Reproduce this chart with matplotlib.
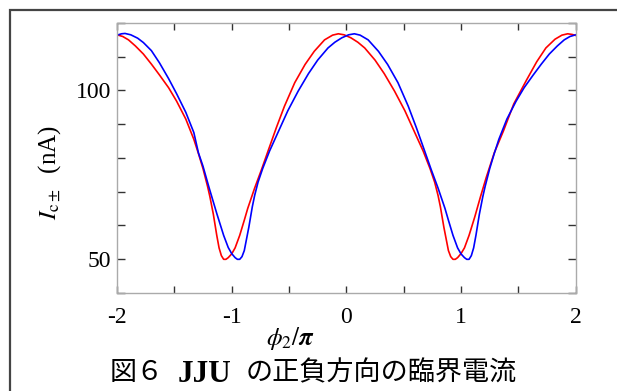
import numpy as np
import matplotlib
matplotlib.use('Agg')
import matplotlib.pyplot as plt
from matplotlib.patches import Rectangle

plt.rcParams['font.family'] = ['Liberation Serif', 'Noto Sans CJK JP', 'DejaVu Sans']
plt.rcParams['mathtext.fontset'] = 'stix'
plt.rcParams['axes.unicode_minus'] = False

# phase phi2/pi and critical current Ic+ (red) / Ic- (blue) in nA
phiRed = [-2.00, -1.95, -1.90, -1.84, -1.77, -1.70, -1.63, -1.55, -1.48, -1.40,
          -1.33, -1.29, -1.25, -1.21, -1.19, -1.16, -1.13, -1.11, -1.09, -1.07,
          -1.05, -1.03, -1.00, -0.97, -0.93, -0.89, -0.86, -0.80, -0.74, -0.68,
          -0.61, -0.54, -0.45, -0.36, -0.28, -0.19, -0.12, -0.07, -0.02, 0.04,
          0.10, 0.16, 0.25, 0.33, 0.42, 0.51, 0.59, 0.67, 0.73, 0.77,
          0.80, 0.82, 0.85, 0.87, 0.89, 0.91, 0.93, 0.95, 0.97, 1.00,
          1.03, 1.07, 1.12, 1.17, 1.22, 1.29, 1.37, 1.46, 1.57, 1.66,
          1.74, 1.82, 1.88, 1.93, 1.97, 2.00]
icRed = [116.5, 116.0, 115.0, 113.2, 110.8, 107.8, 104.6, 100.8, 96.8, 91.5,
         85.5, 81.3, 76.8, 71.5, 68.5, 63.3, 57.0, 53.3, 51.0, 49.9,
         49.9, 50.4, 51.5, 53.3, 57.0, 61.5, 65.0, 71.0, 76.5, 82.3,
         89.0, 95.3, 102.3, 107.7, 111.6, 115.0, 116.4, 116.8, 116.5, 115.6,
         114.3, 112.6, 109.0, 105.0, 99.8, 94.0, 88.0, 82.0, 76.8, 72.8,
         68.8, 65.5, 59.5, 56.0, 52.5, 50.7, 49.9, 49.9, 50.4, 51.6,
         53.3, 57.0, 62.5, 68.5, 74.2, 81.5, 88.0, 96.0, 103.0, 108.5,
         112.6, 115.2, 116.4, 116.8, 116.6, 116.3]

phiBlue = [-2.00, -1.96, -1.93, -1.88, -1.82, -1.77, -1.70, -1.63, -1.55, -1.48,
           -1.40, -1.33, -1.29, -1.25, -1.20, -1.13, -1.07, -1.03, -1.00, -0.97,
           -0.95, -0.93, -0.91, -0.89, -0.87, -0.85, -0.82, -0.80, -0.77, -0.73,
           -0.67, -0.59, -0.51, -0.42, -0.33, -0.25, -0.16, -0.10, -0.04, 0.02,
           0.07, 0.12, 0.19, 0.28, 0.36, 0.45, 0.54, 0.61, 0.68, 0.74,
           0.80, 0.86, 0.89, 0.93, 0.97, 1.00, 1.03, 1.05, 1.07, 1.09,
           1.11, 1.13, 1.16, 1.19, 1.21, 1.25, 1.29, 1.33, 1.40, 1.48,
           1.55, 1.63, 1.70, 1.77, 1.84, 1.90, 1.95, 2.00]
icBlue = [116.4, 116.8, 116.9, 116.5, 115.5, 114.2, 111.8, 108.2, 103.5, 99.0,
          93.5, 87.5, 81.5, 77.5, 71.5, 63.5, 57.0, 53.4, 51.6, 50.4,
          49.9, 49.9, 50.7, 52.5, 56.0, 59.5, 65.5, 68.8, 72.8, 76.8,
          82.0, 88.0, 94.0, 99.8, 105.0, 109.0, 112.6, 114.3, 115.6, 116.5,
          116.8, 116.4, 115.0, 111.6, 107.7, 102.3, 95.3, 89.0, 82.3, 76.5,
          71.0, 65.0, 61.5, 57.0, 53.3, 51.5, 50.4, 49.9, 49.9, 51.0,
          53.3, 57.0, 63.3, 68.5, 71.5, 76.8, 81.3, 85.5, 91.5, 96.8,
          100.8, 104.6, 107.8, 110.8, 113.2, 115.0, 116.0, 116.5]

xTicks = [-2, -1, 0, 1, 2]
xTickLabels = ['-2', '-1', '0', '1', '2']
yTicks = [50, 100]
yTickLabels = ['50', '100']

W, H = 617, 391
fig = plt.figure(figsize=(W / 100, H / 100), dpi=100)
fig.patch.set_facecolor('white')

# outer frame, only left and top edges fall inside the picture
fig.patches.append(Rectangle((10 / W, -0.2), 1.2, 1.2 - 10 / H,
                             transform=fig.transFigure, fill=False,
                             edgecolor='#444444', linewidth=1.6))

ax = fig.add_axes([117 / W, (H - 292.7) / H, (575.7 - 117) / W, (292.7 - 23) / H])
ax.plot(phiRed, icRed, color='#ff0000', linewidth=1.2)
ax.plot(phiBlue, icBlue, color='#0000ff', linewidth=1.2)

ax.set_xlim(-2, 2)
ax.set_ylim(40, 120)
ax.set_xticks(xTicks)
ax.set_xticklabels(xTickLabels, fontsize=17)
ax.set_xticks(np.arange(-2, 2.01, 0.5), minor=True)
ax.set_yticks(yTicks)
ax.set_yticklabels(yTickLabels, fontsize=17)
ax.set_yticks(np.arange(40, 121, 10), minor=True)

ax.tick_params(which='both', direction='in', top=True, right=True,
               color='#333333', width=1.0)
ax.tick_params(axis='x', which='both', length=5, pad=10)
ax.tick_params(axis='y', which='both', length=6, pad=4)

for s in ax.spines.values():
    s.set_color('#aaaaaa')
    s.set_linewidth(1.0)

# axis labels
fig.text(50 / W, 1 - 172 / H, r'$I_{\mathrm{c}\pm}$  (nA)', rotation=90,
         ha='center', va='center', fontsize=18)
fig.text(290 / W, 1 - 338 / H, r'$\phi_2/\boldsymbol{\pi}$', ha='center',
         va='center', fontsize=18)

# caption
fig.text(110 / W, 1 - 374 / H, '図６', ha='left', va='center', fontsize=19.5)
fig.text(178 / W, 1 - 374 / H, 'JJU', ha='left', va='center', fontsize=22.5,
         fontweight='bold')
fig.text(246 / W, 1 - 374 / H, 'の正負方向の臨界電流', ha='left', va='center',
         fontsize=19.5)

fig.savefig('out.png', dpi=100)
